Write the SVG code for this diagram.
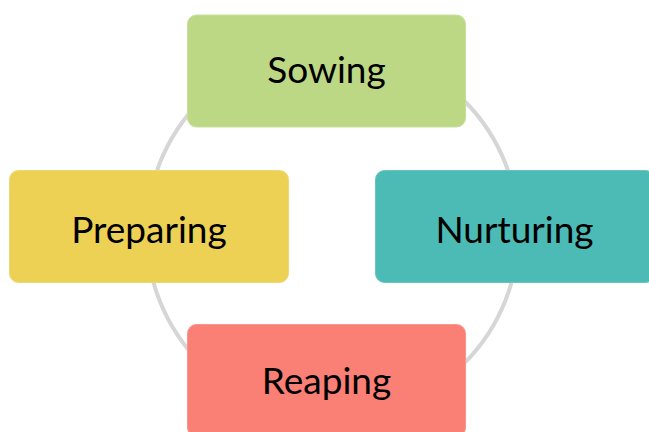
<svg xmlns="http://www.w3.org/2000/svg" width="649" height="432" viewBox="0 0 649 432">
  <style>
    .box { stroke-width: 1; }
    .label { font-family: Lato, "Open Sans", "Liberation Sans", sans-serif; font-size: 37px; fill: #000; text-anchor: middle; }
    .ring { fill: none; stroke: #d6d6d6; stroke-width: 4; }
  </style>
  <rect width="649" height="432" fill="#ffffff"/>

  <!-- cycle ring behind the stages -->
  <g id="connectors">
    <circle class="ring" cx="332.5" cy="232" r="186"/>
  </g>

  <g id="sowing">
    <rect class="box" x="187.5" y="15" width="278" height="112" rx="9" fill="#bdd884" stroke="#c9df9c"/>
    <text class="label" x="326.5" y="82.5">Sowing</text>
  </g>

  <g id="preparing">
    <rect class="box" x="9.5" y="170.5" width="279" height="112" rx="9" fill="#ecd155" stroke="#efd872"/>
    <text class="label" x="149" y="243">Preparing</text>
  </g>

  <g id="nurturing">
    <rect class="box" x="375.5" y="170.5" width="279" height="112" rx="9" fill="#4cbab5" stroke="#68c4c0"/>
    <text class="label" x="514.5" y="243">Nurturing</text>
  </g>

  <g id="reaping">
    <rect class="box" x="187.5" y="324.5" width="278" height="112" rx="9" fill="#fa7f75" stroke="#fb958c"/>
    <text class="label" x="326.5" y="393.5">Reaping</text>
  </g>
</svg>
